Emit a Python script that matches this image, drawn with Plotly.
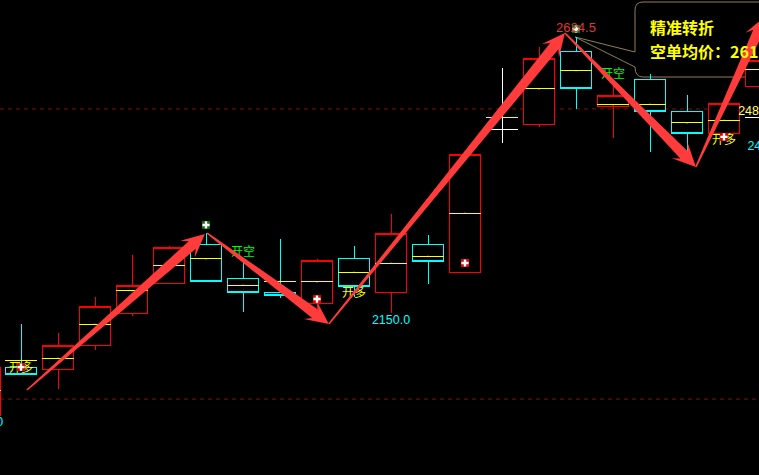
import plotly.graph_objects as go

W, H = 759, 475
X_PX0, X_STEP = 21.0, 37.0
PRICE_TOP, PRICE_PER_PX = 2688.4, 1.72

# ---- candle data (prices) ----
idx_up = [-0.98, 1, 2, 3, 4, 8, 10, 12, 14, 16, 19, 20]
up_open = [1974.5, 2053.5, 2095, 2150, 2200, 2167, 2184.5, 2220.5, 2473.5, 2506, 2459.5, 2539]
up_close = [2057, 2095, 2160.5, 2198, 2262, 2239.5, 2287.5, 2422, 2588.5, 2523.5, 2511, 2585]
up_high = [2057, 2115.5, 2177.5, 2250, 2265.5, 2243, 2320.5, 2422, 2607.5, 2551, 2511, 2585]
up_low = [1974.5, 2019.5, 2086.5, 2145, 2200, 2155, 2150, 2220.5, 2470, 2451, 2459.5, 2539]

idx_down = [0, 5, 6, 7, 9, 11, 15, 17, 18]
down_open = [2055.5, 2268.5, 2210, 2184.5, 2243, 2268.5, 2600.5, 2551, 2496]
down_close = [2045, 2205, 2184.5, 2179.5, 2195, 2238, 2535.5, 2496, 2459.5]
down_high = [2131, 2287.5, 2241, 2277.5, 2265.5, 2284, 2624.5, 2561, 2525]
down_low = [2043.5, 2205, 2152, 2176, 2177.5, 2200, 2501, 2427, 2427]

idx_flat = [13]
flat_open = [2465]
flat_close = [2465]
flat_high = [2571.5]
flat_low = [2442.5]

mid_idx = [-0.98, 0, 1, 2, 3, 4, 5, 6, 7, 8, 9, 10, 11, 12, 13, 14, 15, 16, 17, 18, 19, 20]
mid_price = [2017.5, 2069, 2072.5, 2131, 2188, 2232.5, 2243, 2198, 2205, 2203.5, 2220.5, 2236,
             2248, 2322, 2487, 2535.5, 2566.5, 2508, 2509.5, 2477, 2482, 2569.5]
tick_idx = [20]
tick_price = [2485.5]

dash_levels = [2501, 2002]

# ---- signals ----
long_idx = [0, 8, 12, 19]
long_price = [2057, 2174, 2236, 2453]
short_idx = [5, 15]
short_price = [2301.5, 2638.5]
open_long_idx = [0, 9, 19]
open_long_price = [2054, 2182.5, 2446]
open_short_idx = [6, 16]
open_short_price = [2253, 2559.5]

# ---- price labels ----
low_labels = ["1975.0", "2150.0", "2480.0"]
low_label_idx = [-1, 10, 20.15]
low_label_price = [1960.5, 2136, 2436]
high_label = ["2624.5"]
high_label_idx = [15]
high_label_price = [2638.5]
last_labels = ["2485.0"]
last_label_idx = [19.9]
last_label_price = [2496]

# ---- trend arrows: (start idx, start price, end idx, end price) ----
arrow_start_idx = [0.16, 5.03, 8.32, 14.7, 18.24]
arrow_start_price = [2017.6, 2287.5, 2131, 2631.6, 2401.2]
arrow_end_idx = [4.97, 8.32, 14.7, 18.24, 20.11]
arrow_end_price = [2286, 2131, 2631.6, 2401.2, 2660]

callout_title = "精准转折"
callout_line = "空单均价：2611.5"


def ix(px):
    return (px - X_PX0) / X_STEP


def pr(py):
    return PRICE_TOP - PRICE_PER_PX * py


def to_px(i, p):
    return X_PX0 + X_STEP * i, (PRICE_TOP - p) / PRICE_PER_PX


def arrow_polygon(i0, p0, i1, p1):
    x0, y0 = to_px(i0, p0)
    x1, y1 = to_px(i1, p1)
    dx, dy = x1 - x0, y1 - y0
    length = (dx * dx + dy * dy) ** 0.5
    ux, uy = dx / length, dy / length
    nx, ny = -uy, ux
    outline = [(0, 0.8), (length - 17, 5.2), (length - 23, 11.0), (length, 0),
               (length - 23, -11.0), (length - 17, -5.2), (0, -0.8)]
    pts = [(x0 + ux * a + nx * b, y0 + uy * a + ny * b) for a, b in outline]
    xs = [ix(x) for x, _ in pts] + [ix(pts[0][0])]
    ys = [pr(y) for _, y in pts] + [pr(pts[0][1])]
    return xs, ys


def candle(x, o, h, l, c, up_color, down_color):
    return go.Candlestick(
        x=x, open=o, high=h, low=l, close=c, whiskerwidth=0,
        increasing=dict(line=dict(color=up_color, width=1), fillcolor="#000000"),
        decreasing=dict(line=dict(color=down_color, width=1), fillcolor="#000000"),
        hoverinfo="skip", showlegend=False,
    )


def bars(x, y, color):
    return go.Scatter(
        x=x, y=y, mode="markers", marker=dict(size=1, color=color),
        error_x=dict(type="constant", value=0.44, color=color, thickness=1, width=0),
        hoverinfo="skip", showlegend=False,
    )


def labels(x, y, text, color, size, family):
    return go.Scatter(
        x=x, y=y, mode="text", text=text, textposition="middle center",
        textfont=dict(color=color, size=size, family=family),
        hoverinfo="skip", showlegend=False,
    )


def icons(x, y, bg):
    return [
        go.Scatter(x=x, y=y, mode="markers", marker=dict(symbol="square", size=8, color=bg),
                   hoverinfo="skip", showlegend=False),
        go.Scatter(x=x, y=y, mode="markers",
                   marker=dict(symbol="cross", size=6, color="#ffffff"),
                   hoverinfo="skip", showlegend=False),
    ]


CJK = "Noto Sans CJK SC"
LAT = "Liberation Sans"

fig = go.Figure()
fig.add_trace(candle(idx_up, up_open, up_high, up_low, up_close, "#ff0000", "#ff0000"))
fig.add_trace(candle(idx_down, down_open, down_high, down_low, down_close, "#00ffff", "#00ffff"))
fig.add_trace(candle(idx_flat, flat_open, flat_high, flat_low, flat_close, "#ffffff", "#ffffff"))
fig.add_trace(bars(mid_idx, mid_price, "#ffff00"))
fig.add_trace(bars(tick_idx, tick_price, "#ffffff"))

fig.add_trace(labels(open_long_idx, open_long_price, ["开多"] * 3, "#ffff00", 12, CJK))
fig.add_trace(labels(open_short_idx, open_short_price, ["开空"] * 2, "#00ff00", 12, CJK))
fig.add_trace(labels(low_label_idx, low_label_price, low_labels, "#00ffff", 12.5, LAT))
fig.add_trace(labels(last_label_idx, last_label_price, last_labels, "#ffff66", 12.5, LAT))

for a, b, c, d in zip(arrow_start_idx, arrow_start_price, arrow_end_idx, arrow_end_price):
    xs, ys = arrow_polygon(a, b, c, d)
    fig.add_trace(go.Scatter(x=xs, y=ys, mode="lines", fill="toself", fillcolor="#ff3b3b",
                             line=dict(width=0, color="#ff3b3b"),
                             hoverinfo="skip", showlegend=False))

for t in icons(long_idx, long_price, "#e00000"):
    fig.add_trace(t)
for t in icons(short_idx, short_price, "#0a6e0a"):
    fig.add_trace(t)
fig.add_trace(labels(high_label_idx, high_label_price, high_label, "#e03535", 13, LAT))

# callout outline, expressed in axis units
path = "M {} {} L {} {} Q {} {} {} {} L {} {} L {} {} L {} {} Q {} {} {} {} L {} {}".format(
    ix(760), pr(2), ix(643), pr(2), ix(635), pr(2), ix(635), pr(10),
    ix(635), pr(52), ix(575), pr(37), ix(635), pr(67),
    ix(635), pr(77), ix(643), pr(77), ix(760), pr(77))

shapes = [
    dict(type="line", xref="paper", x0=0, x1=1, yref="y", y0=v, y1=v, layer="below",
         line=dict(color="#7a1212", width=1, dash="4px,4px"))
    for v in dash_levels
]
shapes.append(dict(type="path", path=path, layer="below", xref="x", yref="y",
                   line=dict(color="#8f7f50", width=1)))

annotations = [
    dict(x=ix(648), y=pr(27), xref="x", yref="y", xanchor="left", yanchor="middle", showarrow=False,
         text="<b>" + callout_title + "</b>",
         font=dict(color="#ffff00", size=16, family=CJK)),
    dict(x=ix(648), y=pr(51), xref="x", yref="y", xanchor="left", yanchor="middle", showarrow=False,
         text="<b>" + callout_line + "</b>",
         font=dict(color="#ffff00", size=16, family=CJK)),
]

fig.update_layout(
    width=W, height=H,
    margin=dict(l=0, r=0, t=0, b=0),
    paper_bgcolor="#000000", plot_bgcolor="#000000",
    showlegend=False, hovermode=False,
    boxgap=0.123, boxgroupgap=0,
    shapes=shapes, annotations=annotations,
    xaxis=dict(visible=False, range=[ix(0), ix(W)], rangeslider=dict(visible=False), fixedrange=True),
    yaxis=dict(visible=False, range=[pr(H), pr(0)], fixedrange=True),
)

POST = """
document.documentElement.style.margin='0';
document.body.style.margin='0';
document.body.style.background='#000';
document.documentElement.style.overflow='hidden';
var s=document.createElement('style');
s.textContent='.boxlayer path,.errorbar path{shape-rendering:crispEdges !important}';
document.head.appendChild(s);
"""
fig.write_html("out.html", config=dict(displayModeBar=False), post_script=POST)
